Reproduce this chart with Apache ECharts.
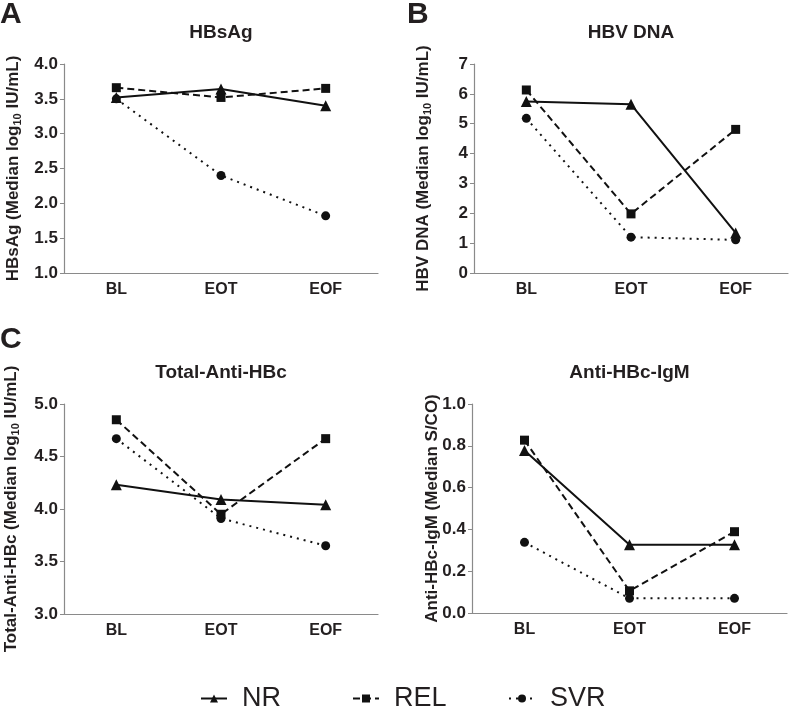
<!DOCTYPE html>
<html>
<head>
<meta charset="utf-8">
<script src="https://cdn.jsdelivr.net/npm/echarts@6/dist/echarts.min.js"></script>
<style>
  html, body { margin: 0; padding: 0; background: #fff; }
  #chart { width: 789px; height: 707px; }
</style>
</head>
<body>
<div id="chart"></div>
<script>
// ---- Data ----
const categories = ['BL', 'EOT', 'EOF'];
const seriesNames = ['NR', 'REL', 'SVR'];

const hbsagNR  = [3.52, 3.64, 3.40];
const hbsagREL = [3.66, 3.52, 3.65];
const hbsagSVR = [3.50, 2.40, 1.82];

const dnaNR  = [5.74, 5.65, 1.34];
const dnaREL = [6.13, 1.98, 4.81];
const dnaSVR = [5.18, 1.20, 1.11];

const antiNR  = [4.23, 4.09, 4.04];
const antiREL = [4.85, 3.95, 4.67];
const antiSVR = [4.67, 3.91, 3.65];

const igmNR  = [0.777, 0.327, 0.327];
const igmREL = [0.827, 0.106, 0.389];
const igmSVR = [0.338, 0.070, 0.070];

const panelTitles = ['HBsAg', 'HBV DNA', 'Total-Anti-HBc', 'Anti-HBc-IgM'];
const panelLetters = ['A', 'B', 'C'];
const yNames = [
  '{a|HBsAg (Median log}{s|10}{a| IU/mL)}',
  '{a|HBV DNA (Median log}{s|10}{a| IU/mL)}',
  '{a|Total-Anti-HBc (Median log}{s|10}{a| IU/mL)}',
  '{a|Anti-HBc-IgM (Median S/CO)}'
];
const yMin = [1.0, 0, 3.0, 0.0];
const yMax = [4.0, 7, 5.0, 1.0];
const yStep = [0.5, 1, 0.5, 0.2];
const yDecimals = [1, 0, 1, 1];

const panelData = [
  [hbsagNR, hbsagREL, hbsagSVR],
  [dnaNR, dnaREL, dnaSVR],
  [antiNR, antiREL, antiSVR],
  [igmNR, igmREL, igmSVR]
];

// ---- Layout / style ----
const FONT = '"Liberation Sans", Arial, Helvetica, sans-serif';
const TXT = '#231f20';
const AX = '#8a8a8a';
const grids = [
  { left: 64,  top: 64,  width: 314, height: 209 },
  { left: 474, top: 64,  width: 314, height: 209 },
  { left: 64,  top: 404, width: 314, height: 210 },
  { left: 472, top: 404, width: 315, height: 209 }
];
const nameGaps = [51, 51, 53, 40];
const symbols = ['triangle', 'rect', 'circle'];
const symbolSizes = [11, 9, 9];
const lineTypes = ['solid', [7, 4], [2, 5]];

const xAxes = [], yAxes = [], series = [], titles = [];

grids.forEach((g, i) => {
  xAxes.push({
    type: 'category', gridIndex: i, data: categories, boundaryGap: true,
    axisLine: { lineStyle: { color: AX, width: 1.2 } },
    axisTick: { alignWithLabel: true, length: 5, lineStyle: { color: AX } },
    axisLabel: { color: TXT, fontFamily: FONT, fontWeight: 'bold', fontSize: 16, margin: 9 },
    splitLine: { show: false }
  });
  yAxes.push({
    type: 'value', gridIndex: i, min: yMin[i], max: yMax[i], interval: yStep[i],
    name: yNames[i], nameLocation: 'middle', nameRotate: 90, nameGap: nameGaps[i],
    nameMoveOverlap: false,
    nameTextStyle: {
      color: TXT, fontFamily: FONT, fontWeight: 'bold', fontSize: 17,
      verticalAlign: 'middle',
      rich: {
        a: { color: TXT, fontFamily: FONT, fontWeight: 'bold', fontSize: 17, lineHeight: 20 },
        s: { color: TXT, fontFamily: FONT, fontWeight: 'bold', fontSize: 11, lineHeight: 20, verticalAlign: 'bottom' }
      }
    },
    axisLine: { show: true, lineStyle: { color: AX, width: 1.2 } },
    axisTick: { show: true, length: 4, lineStyle: { color: AX } },
    axisLabel: {
      color: TXT, fontFamily: FONT, fontWeight: 'bold', fontSize: 17, margin: 6,
      formatter: v => v.toFixed(yDecimals[i])
    },
    splitLine: { show: false }
  });
  titles.push({
    text: panelTitles[i],
    left: g.left + g.width / 2 - 5, top: g.top - 46, textAlign: 'center',
    textStyle: { color: TXT, fontFamily: FONT, fontWeight: 'bold', fontSize: 19 }
  });
  panelData[i].forEach((vals, k) => {
    series.push({
      name: seriesNames[k], type: 'line', xAxisIndex: i, yAxisIndex: i,
      data: vals, symbol: symbols[k], symbolSize: symbolSizes[k],
      itemStyle: { color: '#111' },
      lineStyle: { color: '#111', width: 2, type: lineTypes[k] },
      emphasis: { disabled: true }, animation: false, z: 3 - k
    });
  });
});

const letterPos = [[0, 0], [407, 0], [0, 325]];
panelLetters.forEach((L, j) => {
  titles.push({
    text: L, left: letterPos[j][0], top: letterPos[j][1], padding: 0,
    textStyle: { color: TXT, fontFamily: FONT, fontWeight: 'bold', fontSize: 30 }
  });
});

const legendLefts = [195, 347, 503];
const legends = seriesNames.map((n, k) => ({
  data: [n], left: legendLefts[k], top: 680,
  itemWidth: 26, itemHeight: 10,
  textStyle: { color: TXT, fontFamily: FONT, fontSize: 27, padding: [0, 0, 0, 10] },
  selectedMode: false
}));

const chart = echarts.init(document.getElementById('chart'), null, { renderer: 'canvas' });
chart.setOption({
  backgroundColor: '#fff',
  animation: false,
  title: titles,
  grid: grids,
  xAxis: xAxes,
  yAxis: yAxes,
  legend: legends,
  series: series
});
</script>
</body>
</html>
